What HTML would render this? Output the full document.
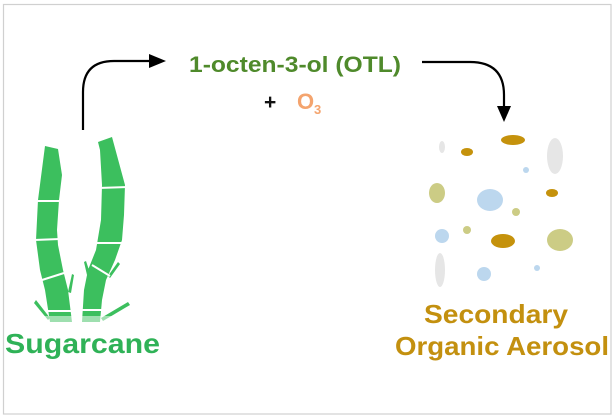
<!DOCTYPE html>
<html><head><meta charset="utf-8"><style>
html,body{margin:0;padding:0;background:#fff;width:615px;height:418px;overflow:hidden}
svg{display:block}
text{font-family:"Liberation Sans",Arial,sans-serif;font-weight:bold}
</style></head><body>
<svg width="615" height="418" viewBox="0 0 615 418" xmlns="http://www.w3.org/2000/svg">
<rect x="3.5" y="4.5" width="607.5" height="409.5" fill="#fff" stroke="#d0d0d0" stroke-width="1.2"/>
<path d="M83 130 L83 92 Q83 61 114 61 L150 61" fill="none" stroke="#000" stroke-width="2.2"/>
<polygon points="166,61 149,54 149,68" fill="#000"/>
<path d="M422 62 L470 62 Q504 62 504 95 L504 108" fill="none" stroke="#000" stroke-width="2.2"/>
<polygon points="504,122 497,106 511,106" fill="#000"/>
<text x="189" y="72" font-size="22" fill="#4f8a2b" textLength="212" lengthAdjust="spacingAndGlyphs">1-octen-3-ol (OTL)</text>
<text x="264" y="109" font-size="21" fill="#111">+</text>
<text x="297" y="109" font-size="22" fill="#f4a46e">O</text>
<text x="314" y="114" font-size="13" fill="#f4a46e">3</text>
<g fill="#3cbf5e">
<path d="M45 146 L58 149 L62 175 L59 200 L57 230 L58 245 L63 270 L68 290 L72 322 L50 322 L45 290 L40 270 L36 240 L38 200 Z"/>
<path d="M98 142 L112 137 L125 185 L124 215 L122 240 L115 260 L106 280 L102 300 L100 322 L82 322 L84 290 L88 270 L96 250 L101 220 L102 185 L100 150 Z"/>
<path d="M36 300 L50 318 L48 320 L34 303 Z"/>
<path d="M101 318 L128 302 L130 305 L103 321 Z"/>
<path d="M68 292 L72 274 L74 275 L71 293 Z"/>
<path d="M87 275 L84 262 L86 261 L90 273 Z"/>
<path d="M108 276 L118 262 L120 264 L110 278 Z"/>
</g>
<g stroke="#fff" stroke-width="2">
<line x1="34" y1="201" x2="62" y2="201"/>
<line x1="34" y1="240" x2="60" y2="239"/>
<line x1="42" y1="280" x2="64" y2="273"/>
<line x1="48" y1="311" x2="75" y2="311"/>
<line x1="98" y1="188" x2="128" y2="187"/>
<line x1="96" y1="243" x2="124" y2="243"/>
<line x1="92" y1="265" x2="110" y2="276"/>
<line x1="80" y1="310" x2="104" y2="310"/>
</g>
<rect x="30" y="316" width="110" height="8" fill="#fff" opacity="0.5"/>
<text x="5" y="353" font-size="28" fill="#2fb257" textLength="155" lengthAdjust="spacingAndGlyphs">Sugarcane</text>
<g>
<ellipse cx="442" cy="147" rx="3" ry="6" fill="#e6e6e6"/>
<ellipse cx="467" cy="152" rx="6" ry="4" fill="#c5920c"/>
<ellipse cx="513" cy="140" rx="12" ry="5" fill="#c5920c"/>
<ellipse cx="555" cy="156" rx="8" ry="18" fill="#e6e6e6"/>
<ellipse cx="526" cy="170" rx="3" ry="3" fill="#bcd7ee"/>
<ellipse cx="437" cy="193" rx="8" ry="10" fill="#cccc85"/>
<ellipse cx="490" cy="200" rx="13" ry="11" fill="#bcd7ee"/>
<ellipse cx="552" cy="193" rx="6" ry="4" fill="#c5920c"/>
<ellipse cx="516" cy="212" rx="4" ry="4" fill="#cccc85"/>
<ellipse cx="442" cy="236" rx="7" ry="7" fill="#bcd7ee"/>
<ellipse cx="467" cy="230" rx="4" ry="4" fill="#cccc85"/>
<ellipse cx="503" cy="241" rx="12" ry="7" fill="#c5920c"/>
<ellipse cx="560" cy="240" rx="13" ry="11" fill="#cccc85"/>
<ellipse cx="440" cy="270" rx="5" ry="17" fill="#e6e6e6"/>
<ellipse cx="484" cy="274" rx="7" ry="7" fill="#bcd7ee"/>
<ellipse cx="537" cy="268" rx="3" ry="3" fill="#bcd7ee"/>
</g>
<text x="424" y="323" font-size="26" fill="#c3900f" textLength="144" lengthAdjust="spacingAndGlyphs">Secondary</text>
<text x="395" y="355" font-size="26" fill="#c3900f" textLength="214" lengthAdjust="spacingAndGlyphs">Organic Aerosol</text>
</svg>
</body></html>
